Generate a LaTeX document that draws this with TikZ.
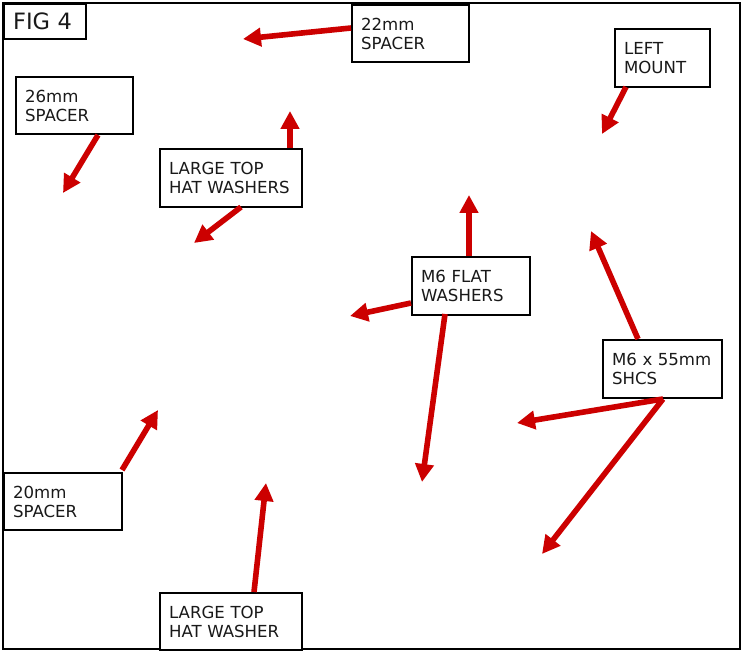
\documentclass[tikz,border=0pt]{standalone}
\usepackage{fontspec}
\setmainfont{DejaVu Sans}
\usetikzlibrary{arrows.meta}
\definecolor{arrowred}{RGB}{204,0,0}
\tikzset{
  labelbox/.style={draw=black, line width=2.2pt, fill=white, anchor=north west,
    inner xsep=9pt, inner ysep=0pt, align=left,
    font=\fontsize{16.6}{19}\selectfont, text=black!90},
  pointer/.style={draw=arrowred, line width=5.6pt,
    -{Triangle[length=18pt,width=18pt]}}
}
\newcommand{\lbox}[6]{%
  \node[labelbox, text width=#4pt-18pt, minimum height=#5pt] (#1) at (#2,#3) {#6};}
\begin{document}
\begin{tikzpicture}[x=1pt,y=-1pt]
\useasboundingbox (0,0) rectangle (741,652);
\fill[white] (0,0) rectangle (741,652);
\draw[line width=2.2pt] (3,3) rectangle (740,649);
% title
\node[draw=black, line width=2.2pt, anchor=north west, minimum width=82pt, minimum height=35pt,
  inner xsep=9pt, align=left, text width=64pt, font=\fontsize{22.5}{25}\selectfont, text=black!90]
  (fig) at (3,3) {FIG 4};
% label boxes
\lbox{b22}{351}{4}{117}{57}{22mm\\SPACER}
\lbox{b26}{15}{76}{117}{57}{26mm\\SPACER}
\lbox{blm}{614}{28}{95}{58}{LEFT\\MOUNT}
\lbox{bltw}{159}{148}{142}{58}{LARGE TOP\\HAT WASHERS}
\lbox{bfw}{411}{256}{118}{58}{M6 FLAT\\WASHERS}
\lbox{bsh}{602}{339}{119}{58}{M6 x 55mm\\SHCS}
\lbox{b20}{3}{472}{118}{57}{20mm\\SPACER}
\lbox{bltw1}{159}{592}{142}{57}{LARGE TOP\\HAT WASHER}
% arrow start points (on box borders) and tips
\coordinate (s22) at (351,28);   \coordinate (t22) at (243,39);
\coordinate (s26) at (98,135);   \coordinate (t26) at (63,193);
\coordinate (slm) at (626,87);   \coordinate (tlm) at (602,134);
\coordinate (sltwA) at (290,148); \coordinate (tltwA) at (290,111);
\coordinate (sltwB) at (241,207); \coordinate (tltwB) at (194,243);
\coordinate (sfwA) at (469,256); \coordinate (tfwA) at (469,195);
\coordinate (sfwB) at (411,303); \coordinate (tfwB) at (350,316);
\coordinate (sfwC) at (445,314); \coordinate (tfwC) at (422,482);
\coordinate (sshA) at (638,339); \coordinate (tshA) at (591,231);
\coordinate (sshB) at (663,399); \coordinate (tshB) at (517,423);
\coordinate (sshC) at (663,399); \coordinate (tshC) at (542,554);
\coordinate (s20) at (122,470);  \coordinate (t20) at (158,410);
\coordinate (sltw1) at (254,592); \coordinate (tltw1) at (266,483);
% arrows
\foreach \a/\b in {s22/t22, s26/t26, slm/tlm, sltwA/tltwA, sltwB/tltwB,
  sfwA/tfwA, sfwB/tfwB, sfwC/tfwC, sshA/tshA, sshB/tshB, sshC/tshC,
  s20/t20, sltw1/tltw1}
  \draw[pointer] (\a) -- (\b);
\end{tikzpicture}
\end{document}
